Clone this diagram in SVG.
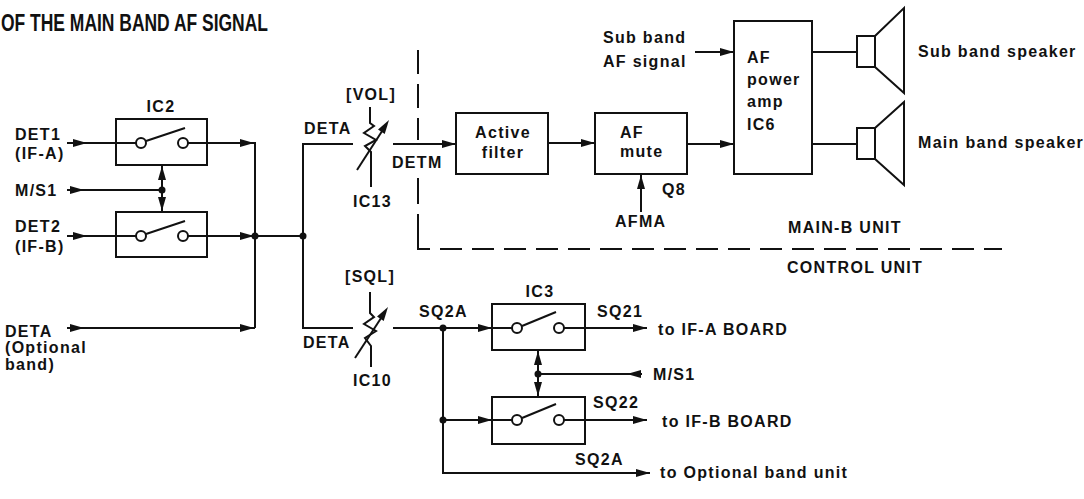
<svg xmlns="http://www.w3.org/2000/svg" xmlns:xlink="http://www.w3.org/1999/xlink" width="1084" height="499" viewBox="0 0 1084 499">
<style>
.t{font-family:"Liberation Sans",Arial,sans-serif;font-weight:bold;font-size:16px;letter-spacing:1.3px;fill:#111}
.c{text-anchor:middle}
.ttl{font-family:"Liberation Sans",Arial,sans-serif;font-weight:bold;font-size:24px;fill:#111}
.ln{stroke:#111;stroke-width:2;fill:none}
.bx{stroke:#111;stroke-width:2;fill:#fff}
.sw{stroke:#111;stroke-width:2;fill:#fff}
.ds{stroke:#111;stroke-width:2;fill:none;stroke-dasharray:22 10}
.dot{fill:#111}
.ah{fill:#111}
</style>
<defs>
<path id="ah" d="M0,0 L-14,-4 L-14,4 Z"/>
</defs>
<rect width="1084" height="499" fill="#fff"/>
<text class="ttl" x="1" y="31" textLength="267" lengthAdjust="spacingAndGlyphs">OF THE MAIN BAND AF SIGNAL</text>

<g id="connectors">
<path class="ln" d="M67,143 H136 M188,143 H255 V328 M67,236 H136 M188,236 H303 M67,328 H255 M67,190 H162 M162,165 V212"/>
<use href="#ah" class="ah" transform="translate(87,143)"/>
<use href="#ah" class="ah" transform="translate(254,143)"/>
<use href="#ah" class="ah" transform="translate(87,236)"/>
<use href="#ah" class="ah" transform="translate(254,236)"/>
<use href="#ah" class="ah" transform="translate(84,328)"/>
<use href="#ah" class="ah" transform="translate(254,328)"/>
<use href="#ah" class="ah" transform="translate(84,190)"/>
<use href="#ah" class="ah" transform="translate(162,166) rotate(-90)"/>
<use href="#ah" class="ah" transform="translate(162,211) rotate(90)"/>
<circle class="dot" cx="162" cy="190" r="3.5"/>
<circle class="dot" cx="255" cy="236" r="3.5"/>
<circle class="dot" cx="303" cy="236" r="3.5"/>
<path class="ln" d="M353,144 H303 V328 H353"/>
<path class="ln" d="M370,107 V123 L374,126 L364,133 L376,140 L365,146 L371,152 V187"/>
<path class="ln" d="M357,170 L386,125"/>
<use href="#ah" class="ah" transform="translate(389,120) rotate(-57)"/>
<path class="ln" d="M393,144 H456"/>
<use href="#ah" class="ah" transform="translate(456,144)"/>
<path class="ln" d="M548,143 H595"/>
<use href="#ah" class="ah" transform="translate(595,143)"/>
<path class="ln" d="M687,144 H734"/>
<use href="#ah" class="ah" transform="translate(734,144)"/>
<path class="ln" d="M695,52 H734"/>
<use href="#ah" class="ah" transform="translate(734,52)"/>
<path class="ln" d="M641,212 V175"/>
<use href="#ah" class="ah" transform="translate(641,175) rotate(-90)"/>
<path class="ln" d="M812,52 H857 M812,144 H857"/>
<path class="ln" d="M370,292 V313 L374,317 L364,324 L376,331 L365,338 L371,346 V367"/>
<path class="ln" d="M355,358 L385,312"/>
<use href="#ah" class="ah" transform="translate(388,307) rotate(-57)"/>
<path class="ln" d="M393,328 H512 M443,328 V473 H650 M443,420 H512 M564,328 H647 M564,420 H647 M538,374 H642 M538,350 V397"/>
<use href="#ah" class="ah" transform="translate(492,328)"/>
<use href="#ah" class="ah" transform="translate(492,420)"/>
<use href="#ah" class="ah" transform="translate(647,328)"/>
<use href="#ah" class="ah" transform="translate(647,420)"/>
<use href="#ah" class="ah" transform="translate(650,473)"/>
<use href="#ah" class="ah" transform="translate(627,374) rotate(180)"/>
<use href="#ah" class="ah" transform="translate(538,351) rotate(-90)"/>
<use href="#ah" class="ah" transform="translate(538,396) rotate(90)"/>
<circle class="dot" cx="443" cy="328" r="3.5"/>
<circle class="dot" cx="443" cy="420" r="3.5"/>
<circle class="dot" cx="538" cy="374" r="3.5"/>
<path class="ln" d="M418,50 V74 M418,84 V108 M418,118 V140 M418,178 V204 M418,214 V249 H430 M440,249 H462"/>
<path class="ds" d="M472,249 H1002"/>
</g>

<g id="ic2a">
<rect class="bx" x="116" y="119" width="91" height="46" style="fill:none"/>
<path class="ln" d="M146,141 L185,128"/>
<circle class="sw" cx="141" cy="143" r="5"/>
<circle class="sw" cx="183" cy="143" r="5"/>
</g>
<g id="ic2b">
<rect class="bx" x="116" y="212" width="91" height="45" style="fill:none"/>
<path class="ln" d="M146,234 L185,221"/>
<circle class="sw" cx="141" cy="236" r="5"/>
<circle class="sw" cx="183" cy="236" r="5"/>
</g>
<g id="active-filter">
<rect class="bx" x="456" y="113" width="92" height="61"/>
<text class="t c" x="503" y="138">Active</text>
<text class="t c" x="503" y="158">filter</text>
</g>
<g id="af-mute">
<rect class="bx" x="595" y="113" width="92" height="61"/>
<text class="t" x="620" y="138">AF</text>
<text class="t" x="620" y="157">mute</text>
</g>
<g id="af-power-amp">
<rect class="bx" x="734" y="21" width="78" height="153"/>
<text class="t" x="747" y="63">AF</text>
<text class="t" x="747" y="85">power</text>
<text class="t" x="747" y="107">amp</text>
<text class="t" x="747" y="130">IC6</text>
</g>
<g id="sub-speaker">
<rect class="bx" x="857" y="36" width="18" height="31"/>
<path class="ln" d="M875,36 L904,8 V93 L875,67"/>
</g>
<g id="main-speaker">
<rect class="bx" x="857" y="128" width="18" height="31"/>
<path class="ln" d="M875,128 L904,102 V185 L875,159"/>
</g>
<g id="ic3a">
<rect class="bx" x="492" y="304" width="93" height="46" style="fill:none"/>
<path class="ln" d="M522,326 L556,312"/>
<circle class="sw" cx="517" cy="328" r="5"/>
<circle class="sw" cx="559" cy="328" r="5"/>
</g>
<g id="ic3b">
<rect class="bx" x="492" y="397" width="93" height="47" style="fill:none"/>
<path class="ln" d="M522,418 L556,404"/>
<circle class="sw" cx="517" cy="420" r="5"/>
<circle class="sw" cx="559" cy="420" r="5"/>
</g>

<g id="labels">
<text class="t" x="15" y="140">DET1</text>
<text class="t" x="15" y="159">(IF-A)</text>
<text class="t" x="15" y="196">M/S1</text>
<text class="t" x="15" y="232">DET2</text>
<text class="t" x="15" y="252">(IF-B)</text>
<text class="t" x="5" y="337">DETA</text>
<text class="t" x="5" y="353">(Optional</text>
<text class="t" x="5" y="370">band)</text>
<text class="t c" x="161" y="112">IC2</text>
<text class="t" x="304" y="134">DETA</text>
<text class="t" x="346" y="100">[VOL]</text>
<text class="t" x="353" y="207">IC13</text>
<text class="t" x="392" y="168">DETM</text>
<text class="t" x="662" y="195">Q8</text>
<text class="t" x="615" y="227">AFMA</text>
<text class="t" x="603" y="43">Sub band</text>
<text class="t" x="603" y="67">AF signal</text>
<text class="t" x="918" y="57">Sub band speaker</text>
<text class="t" x="918" y="148">Main band speaker</text>
<text class="t" x="788" y="233">MAIN-B UNIT</text>
<text class="t" x="787" y="273">CONTROL UNIT</text>
<text class="t" x="345" y="282">[SQL]</text>
<text class="t" x="303" y="348">DETA</text>
<text class="t" x="353" y="386">IC10</text>
<text class="t" x="419" y="317">SQ2A</text>
<text class="t c" x="540" y="297">IC3</text>
<text class="t" x="597" y="317">SQ21</text>
<text class="t" x="658" y="335">to IF-A BOARD</text>
<text class="t" x="653" y="380">M/S1</text>
<text class="t" x="593" y="408">SQ22</text>
<text class="t" x="662" y="427">to IF-B BOARD</text>
<text class="t" x="575" y="465">SQ2A</text>
<text class="t" x="660" y="478">to Optional band unit</text>
</g>
</svg>
